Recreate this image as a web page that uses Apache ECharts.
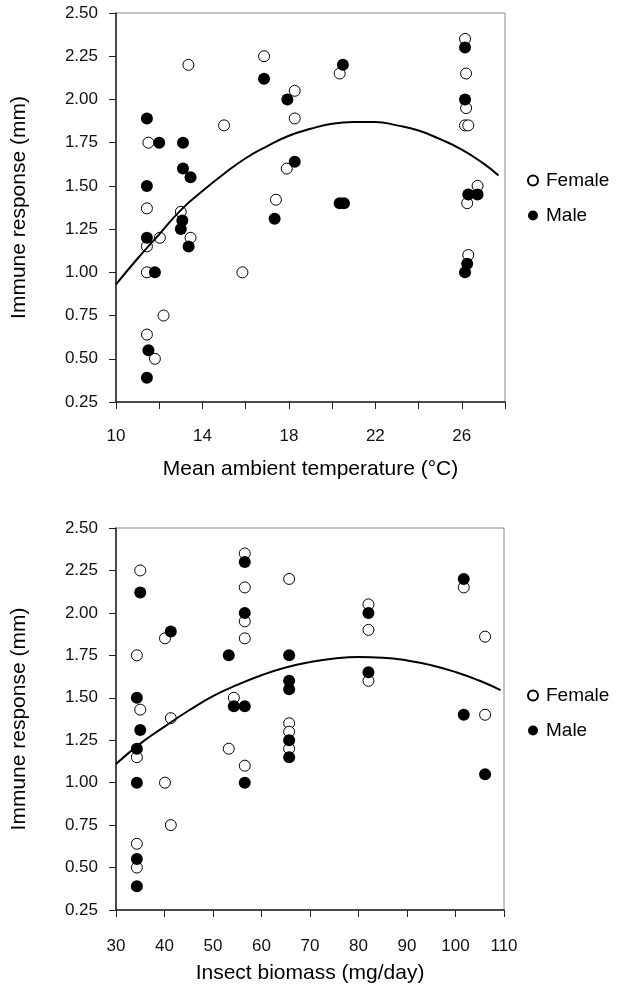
<!DOCTYPE html>
<html>
<head>
<meta charset="utf-8">
<script src="https://cdn.jsdelivr.net/npm/echarts@6/dist/echarts.min.js"></script>
<style>
html,body{margin:0;padding:0;background:#fff;}
#chart{width:640px;height:985px;}
</style>
</head>
<body>
<div id="chart"></div>
<script>
// top panel: immune response vs mean ambient temperature
var femaleTemp=[[13.35,2.20],[16.85,2.25],[18.27,2.05],[18.27,1.89],[11.5,1.75],[15.0,1.85],[17.9,1.60],[17.4,1.42],[11.43,1.37],[13.0,1.35],[13.45,1.20],[12.03,1.20],[11.43,1.15],[11.43,1.00],[15.85,1.00],[12.2,0.75],[11.43,0.64],[11.8,0.50],[26.15,2.35],[26.2,2.15],[26.2,1.95],[26.15,1.85],[26.3,1.85],[20.35,2.15],[26.73,1.50],[26.25,1.40],[26.3,1.10]];
var maleTemp=[[16.85,2.12],[17.93,2.00],[11.43,1.89],[12.0,1.75],[13.1,1.75],[13.1,1.60],[13.45,1.55],[18.27,1.64],[11.43,1.50],[13.07,1.30],[13.0,1.25],[13.36,1.15],[11.43,1.20],[11.8,1.00],[17.34,1.31],[11.5,0.55],[11.43,0.39],[26.15,2.30],[26.15,2.00],[20.5,2.20],[26.3,1.45],[26.73,1.45],[20.35,1.40],[20.55,1.40],[26.25,1.05],[26.15,1.00]];
var fitTempX=[10,11,12,13,14,15,16,17,18,19,20,21,22,23,24,25,26,27,27.7];
var fitTempY=[0.93,1.08,1.22,1.36,1.47,1.57,1.66,1.73,1.79,1.83,1.86,1.87,1.87,1.85,1.82,1.77,1.71,1.63,1.56];

// bottom panel: immune response vs insect biomass
var femaleBio=[[35.0,2.25],[40.1,1.85],[34.3,1.75],[56.55,2.35],[56.55,2.15],[56.55,1.95],[56.55,1.85],[65.7,2.20],[35.0,1.43],[54.3,1.50],[41.3,1.38],[34.3,1.15],[40.1,1.00],[53.25,1.20],[56.55,1.10],[65.7,1.35],[65.7,1.30],[65.7,1.20],[41.3,0.75],[34.3,0.64],[34.3,0.50],[101.7,2.15],[82.05,2.05],[82.05,1.90],[106.1,1.86],[82.05,1.60],[106.1,1.40]];
var maleBio=[[35.0,2.12],[41.3,1.89],[53.25,1.75],[56.55,2.30],[56.55,2.00],[65.7,1.75],[65.7,1.60],[65.7,1.55],[34.3,1.50],[54.3,1.45],[56.55,1.45],[35.0,1.31],[34.3,1.20],[34.3,1.00],[56.55,1.00],[65.7,1.25],[65.7,1.15],[34.3,0.55],[34.3,0.39],[101.7,2.20],[82.05,2.00],[82.05,1.65],[101.7,1.40],[106.1,1.05]];
var fitBioX=[30,35,40,45,50,55,60,65,70,75,80,85,90,95,100,105,109.3];
var fitBioY=[1.11,1.23,1.33,1.425,1.51,1.576,1.633,1.678,1.71,1.731,1.74,1.736,1.72,1.692,1.652,1.60,1.545];

var legendNames=["Female","Male"];
var yTitle="Immune response (mm)";
var xTitleTop="Mean ambient temperature (°C)";
var xTitleBottom="Insect biomass (mg/day)";

var font="Liberation Sans";
var chart=echarts.init(document.getElementById("chart"));

function yAxisFor(idx){
  return {
    type:"value",gridIndex:idx,min:0.25,max:2.5,interval:0.25,
    name:yTitle,nameLocation:"middle",nameGap:86,
    nameTextStyle:{fontFamily:font,fontSize:21,color:"#000"},
    axisLine:{show:true,lineStyle:{color:"#222",width:1.5}},
    axisTick:{show:true,length:7,lineStyle:{color:"#222"}},
    axisLabel:{margin:18,fontFamily:font,fontSize:17,color:"#111",formatter:function(v){return v.toFixed(2);}},
    splitLine:{show:false}
  };
}

function legendAt(top){
  return {
    data:legendNames,orient:"vertical",left:522,top:top,itemGap:16,
    icon:"circle",itemWidth:10,itemHeight:10,selectedMode:false,
    textStyle:{fontFamily:font,fontSize:19,color:"#000",padding:[0,0,0,3]}
  };
}

var option={
  animation:false,
  backgroundColor:"#fff",
  grid:[
    {left:116,top:13,width:389,height:389,show:true,borderColor:"#888",borderWidth:1},
    {left:116,top:528,width:388,height:385,show:true,borderColor:"#888",borderWidth:1}
  ],
  xAxis:[
    {
      type:"value",gridIndex:0,min:10,max:28,interval:2,
      name:xTitleTop,nameLocation:"middle",nameGap:57,
      nameTextStyle:{fontFamily:font,fontSize:21,color:"#000"},
      axisLine:{show:true,lineStyle:{color:"#222",width:1.5}},
      axisTick:{show:true,length:7,lineStyle:{color:"#222"}},
      axisLabel:{margin:26,fontFamily:font,fontSize:17,color:"#111",
        formatter:function(v){return (v-10)%4===0&&v<28?String(v):"";}},
      splitLine:{show:false}
    },
    {
      type:"value",gridIndex:1,min:30,max:110,interval:10,
      name:xTitleBottom,nameLocation:"middle",nameGap:53,
      nameTextStyle:{fontFamily:font,fontSize:21,color:"#000"},
      axisLine:{show:true,lineStyle:{color:"#222",width:1.5}},
      axisTick:{show:true,length:7,lineStyle:{color:"#222"}},
      axisLabel:{margin:28,fontFamily:font,fontSize:17,color:"#111"},
      splitLine:{show:false}
    }
  ],
  yAxis:[yAxisFor(0),yAxisFor(1)],
  legend:[legendAt(166),legendAt(681)],
  series:[
    {
      name:"fitTemp",type:"line",xAxisIndex:0,yAxisIndex:0,
      data:fitTempX.map((x,i)=>[x,fitTempY[i]]),
      smooth:true,showSymbol:false,lineStyle:{color:"#000",width:2}
    },
    {
      name:"Female",type:"scatter",xAxisIndex:0,yAxisIndex:0,data:femaleTemp,
      symbol:"circle",symbolSize:11,
      itemStyle:{color:"#fff",borderColor:"#000",borderWidth:1,opacity:1}
    },
    {
      name:"Male",type:"scatter",xAxisIndex:0,yAxisIndex:0,data:maleTemp,
      symbol:"circle",symbolSize:12,
      itemStyle:{color:"#000",borderColor:"#000",borderWidth:0,opacity:1}
    },
    {
      name:"fitBio",type:"line",xAxisIndex:1,yAxisIndex:1,
      data:fitBioX.map((x,i)=>[x,fitBioY[i]]),
      smooth:true,showSymbol:false,lineStyle:{color:"#000",width:2}
    },
    {
      name:"Female",type:"scatter",xAxisIndex:1,yAxisIndex:1,data:femaleBio,
      symbol:"circle",symbolSize:11,
      itemStyle:{color:"#fff",borderColor:"#000",borderWidth:1,opacity:1}
    },
    {
      name:"Male",type:"scatter",xAxisIndex:1,yAxisIndex:1,data:maleBio,
      symbol:"circle",symbolSize:12,
      itemStyle:{color:"#000",borderColor:"#000",borderWidth:0,opacity:1}
    }
  ]
};
chart.setOption(option);
</script>
</body>
</html>
